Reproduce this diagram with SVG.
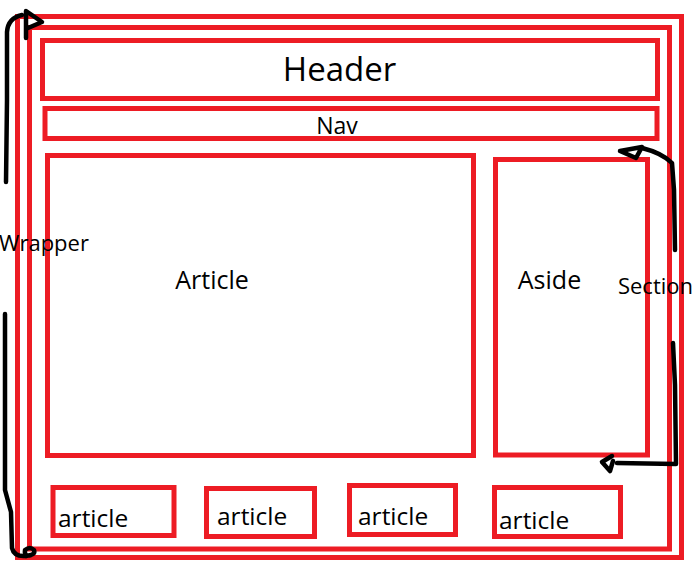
<svg xmlns="http://www.w3.org/2000/svg" width="696" height="564" viewBox="0 0 696 564">
<style>
.box{fill:none;stroke:#ed1c24;stroke-width:5}
.pen{fill:none;stroke:#000;stroke-width:4.5;stroke-linecap:round;stroke-linejoin:round}
text{font-family:"Open Sans","Noto Sans","Liberation Sans",sans-serif;fill:#000}
</style>
<rect width="696" height="564" fill="#fff"/>
<g id="outer-wrapper"><rect class="box" x="17.5" y="16.5" width="664" height="541"/></g>
<g id="section"><rect class="box" x="29.5" y="27.5" width="640" height="521.5"/></g>
<g id="header"><rect class="box" x="42.5" y="40.5" width="615" height="58"/><text x="339.5" y="81" font-size="33" text-anchor="middle">Header</text></g>
<g id="nav"><rect class="box" x="45" y="108.5" width="612" height="30"/><text x="337" y="134" font-size="23" text-anchor="middle">Nav</text></g>
<g id="article-main"><rect class="box" x="47.5" y="155.5" width="426" height="300"/><text x="212" y="289" font-size="25" text-anchor="middle">Article</text></g>
<g id="aside"><rect class="box" x="495.5" y="159.5" width="152" height="295.5"/><text x="549.5" y="289" font-size="25" text-anchor="middle">Aside</text></g>
<g id="article1"><rect class="box" x="53" y="487.5" width="121" height="48"/><text x="58" y="527" font-size="24.5">article</text></g>
<g id="article2"><rect class="box" x="206.5" y="488.5" width="108" height="48"/><text x="217" y="525" font-size="24.5">article</text></g>
<g id="article3"><rect class="box" x="349.5" y="485.5" width="106" height="49"/><text x="358" y="525" font-size="24.5">article</text></g>
<g id="article4"><rect class="box" x="494.5" y="487.5" width="126" height="49"/><text x="499" y="529" font-size="24.5">article</text></g>
<g id="label-wrapper"><text x="44" y="251" font-size="22" text-anchor="middle">Wrapper</text></g>
<g id="label-section"><text x="655.5" y="294" font-size="22" text-anchor="middle">Section</text></g>
<g id="connectors">
<path class="pen" d="M6 182 L7 100 L7 32 Q8 18 22 15"/>
<path class="pen" d="M26 38 L26 11 L42 22 L28 28"/>
<path class="pen" d="M5 314 L5 490 L11 512 L12 548 Q14 557 26 556"/>
<path class="pen" d="M26 556 Q36 555 34 550 Q30 546 25 550 Q24 557 31 555"/>
<path class="pen" d="M675 250 L674 190 L672 163 Q662 153 642 148"/>
<path class="pen" d="M642 147 L620 151 L636 158 Z"/>
<path class="pen" d="M673 343 L675 385 L676 464 L617 463"/>
<path class="pen" d="M612 456 L602 462 L610 471 L613 461"/>
</g>
</svg>
